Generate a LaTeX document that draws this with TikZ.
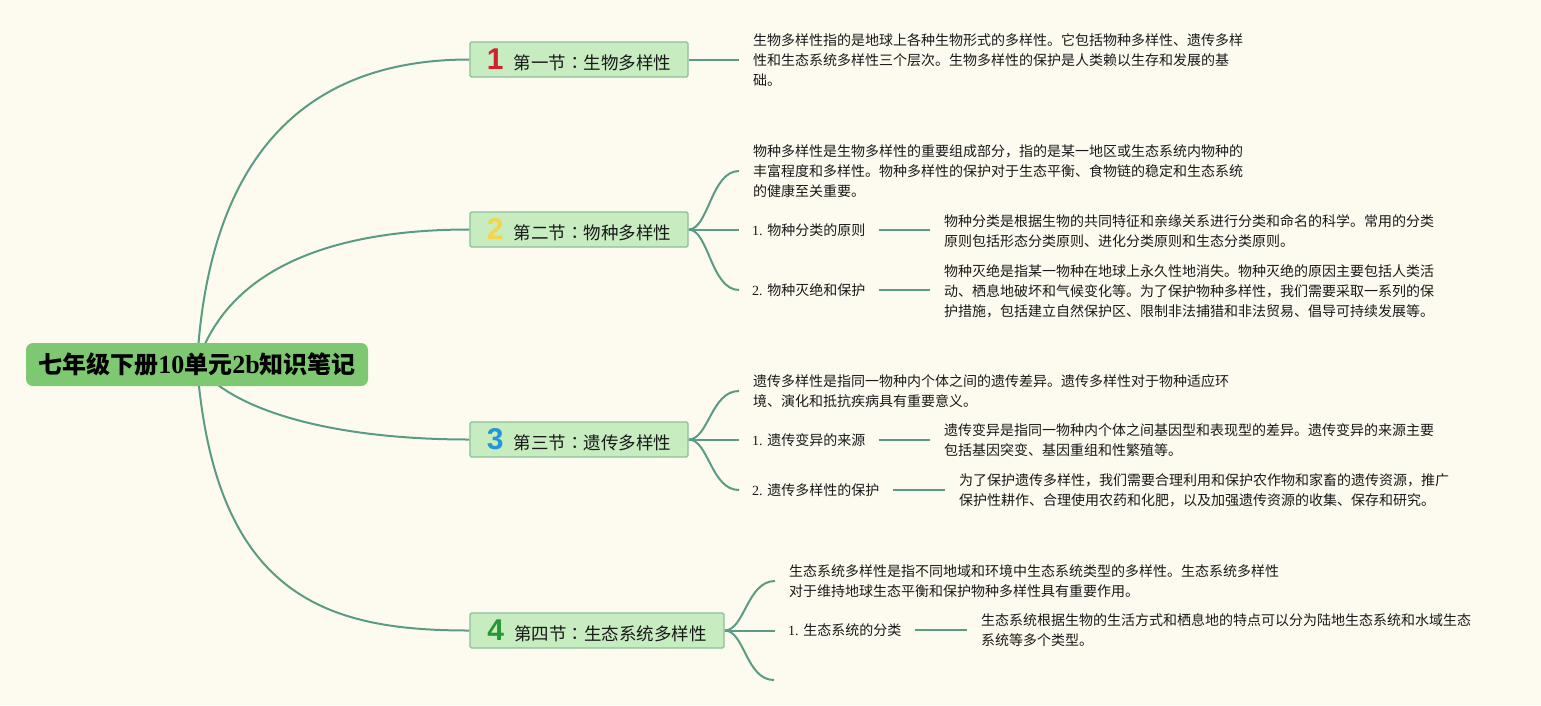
\documentclass[tikz,border=0pt]{standalone}
\usepackage{fontspec}
\setmainfont{Noto Sans CJK SC}
\newfontfamily\ser{Liberation Serif}
\newfontfamily\badgefont{Liberation Sans}
\newfontfamily\tcfont{Noto Sans CJK TC}
\usetikzlibrary{calc}
\pgfdeclarelayer{back}
\pgfdeclarelayer{links}
\pgfsetlayers{back,links,main}
\definecolor{bgc}{RGB}{253,251,240}
\definecolor{linkc}{RGB}{91,155,134}
\definecolor{rootfill}{RGB}{125,200,112}
\definecolor{secfill}{RGB}{199,236,192}
\definecolor{secdraw}{RGB}{140,190,152}
\definecolor{txt}{RGB}{25,25,25}
\definecolor{bone}{RGB}{208,32,48}
\definecolor{btwo}{RGB}{246,212,72}
\definecolor{bthree}{RGB}{36,150,216}
\definecolor{bfour}{RGB}{40,152,52}
\newcommand\badgenum[2]{\textcolor{#1}{\badgefont\bfseries\fontsize{30}{30}\selectfont #2}\hspace{10pt}}
\newcommand\rootser[1]{{\ser\bfseries\fontsize{26}{28}\selectfont #1}}
\newcommand\numser[1]{{\ser #1 }}
\newcommand\tccolon{{\tcfont ：}}
\begin{document}
\begin{tikzpicture}[x=1pt,y=-1pt,
  linkline/.style={draw=linkc, line width=2pt},
  rootbox/.style={fill=rootfill, rounded corners=7pt, minimum width=342pt, minimum height=43pt, inner sep=0pt, font=\fontsize{24}{28}\selectfont\bfseries, text=black},
  secbox/.style={fill=secfill, draw=secdraw, line width=1.2pt, rounded corners=1.5pt, minimum height=35pt, inner sep=0pt, font=\fontsize{17.5}{20}\selectfont, text=txt},
  note/.style={anchor=west, align=left, inner xsep=14pt, inner ysep=1pt, font=\fontsize{14}{20}\selectfont, text=txt},
  lab/.style={anchor=west, inner xsep=13pt, inner ysep=1pt, font=\fontsize{14}{20}\selectfont, text=txt}
]
\begin{pgfonlayer}{back}
\fill[bgc] (0,0) rectangle (1541,705);
\end{pgfonlayer}
\useasboundingbox (0,0) rectangle (1541,705);

% root and sections
\node[rootbox] (root) at (197,364.5) {七年级下册\rootser{10}单元\rootser{2b}知识笔记};
\node[secbox, minimum width=218pt] (s1) at (579,59.5) {\badgenum{bone}{1}第一节\tccolon 生物多样性};
\node[secbox, minimum width=218pt] (s2) at (579,229.5) {\badgenum{btwo}{2}第二节\tccolon 物种多样性};
\node[secbox, minimum width=218pt] (s3) at (579,439.5) {\badgenum{bthree}{3}第三节\tccolon 遗传多样性};
\node[secbox, minimum width=254pt] (s4) at (597,630.5) {\badgenum{bfour}{4}第四节\tccolon 生态系统多样性};

% section 1
\node[note] (n1) at (739,60) {生物多样性指的是地球上各种生物形式的多样性。它包括物种多样性、遗传多样\\性和生态系统多样性三个层次。生物多样性的保护是人类赖以生存和发展的基\\础。};

% section 2
\node[note] (n2a) at (739,171) {物种多样性是生物多样性的重要组成部分，指的是某一地区或生态系统内物种的\\丰富程度和多样性。物种多样性的保护对于生态平衡、食物链的稳定和生态系统\\的健康至关重要。};
\node[lab] (l2a) at (739,230) {\numser{1.}物种分类的原则};
\node[note] (d2a) at (930,231) {物种分类是根据生物的共同特征和亲缘关系进行分类和命名的科学。常用的分类\\原则包括形态分类原则、进化分类原则和生态分类原则。};
\node[lab] (l2b) at (739,290) {\numser{2.}物种灭绝和保护};
\node[note] (d2b) at (930,291) {物种灭绝是指某一物种在地球上永久性地消失。物种灭绝的原因主要包括人类活\\动、栖息地破坏和气候变化等。为了保护物种多样性，我们需要采取一系列的保\\护措施，包括建立自然保护区、限制非法捕猎和非法贸易、倡导可持续发展等。};

% section 3
\node[note] (n3a) at (739,391) {遗传多样性是指同一物种内个体之间的遗传差异。遗传多样性对于物种适应环\\境、演化和抵抗疾病具有重要意义。};
\node[lab] (l3a) at (739,440) {\numser{1.}遗传变异的来源};
\node[note] (d3a) at (930,440) {遗传变异是指同一物种内个体之间基因型和表现型的差异。遗传变异的来源主要\\包括基因突变、基因重组和性繁殖等。};
\node[lab] (l3b) at (739,490) {\numser{2.}遗传多样性的保护};
\node[note] (d3b) at (945,490) {为了保护遗传多样性，我们需要合理利用和保护农作物和家畜的遗传资源，推广\\保护性耕作、合理使用农药和化肥，以及加强遗传资源的收集、保存和研究。};

% section 4
\node[note] (n4a) at (775,581) {生态系统多样性是指不同地域和环境中生态系统类型的多样性。生态系统多样性\\对于维持地球生态平衡和保护物种多样性具有重要作用。};
\node[lab] (l4a) at (775,630) {\numser{1.}生态系统的分类};
\node[note] (d4a) at (967,630.5) {生态系统根据生物的生活方式和栖息地的特点可以分为陆地生态系统和水域生态\\系统等多个类型。};
\coordinate (e4c) at (774,680);

\begin{pgfonlayer}{links}
% root to sections
\draw[linkline] (root.center) .. controls +(13,-235) and +(-140,0) .. (s1.west);
\draw[linkline] (root.center) .. controls +(30,-95) and +(-140,0) .. (s2.west);
\draw[linkline] (root.center) .. controls +(33,45) and +(-140,0) .. (s3.west);
\draw[linkline] (root.center) .. controls +(18,235) and +(-140,0) .. (s4.west);
% section 1
\draw[linkline] (s1.east) -- (s1.east -| n1.west);
% section 2
\draw[linkline] (s2.east) .. controls +(20,0) and +(-28,0) .. (n2a.west);
\draw[linkline] (s2.east) -- (s2.east -| l2a.west);
\draw[linkline] (s2.east) .. controls +(20,0) and +(-28,0) .. (l2b.west);
\draw[linkline] (l2a.east) -- (l2a.east -| d2a.west);
\draw[linkline] (l2b.east) -- (l2b.east -| d2b.west);
% section 3
\draw[linkline] (s3.east) .. controls +(20,0) and +(-28,0) .. (n3a.west);
\draw[linkline] (s3.east) -- (s3.east -| l3a.west);
\draw[linkline] (s3.east) .. controls +(20,0) and +(-28,0) .. (l3b.west);
\draw[linkline] (l3a.east) -- (l3a.east -| d3a.west);
\draw[linkline] (l3b.east) -- (l3b.east -| d3b.west);
% section 4
\draw[linkline] (s4.east) .. controls +(20,0) and +(-28,0) .. (n4a.west);
\draw[linkline] (s4.east) -- (s4.east -| l4a.west);
\draw[linkline] (s4.east) .. controls +(20,0) and +(-28,0) .. (e4c);
\draw[linkline] (l4a.east) -- (l4a.east -| d4a.west);
\end{pgfonlayer}
\end{tikzpicture}
\end{document}
